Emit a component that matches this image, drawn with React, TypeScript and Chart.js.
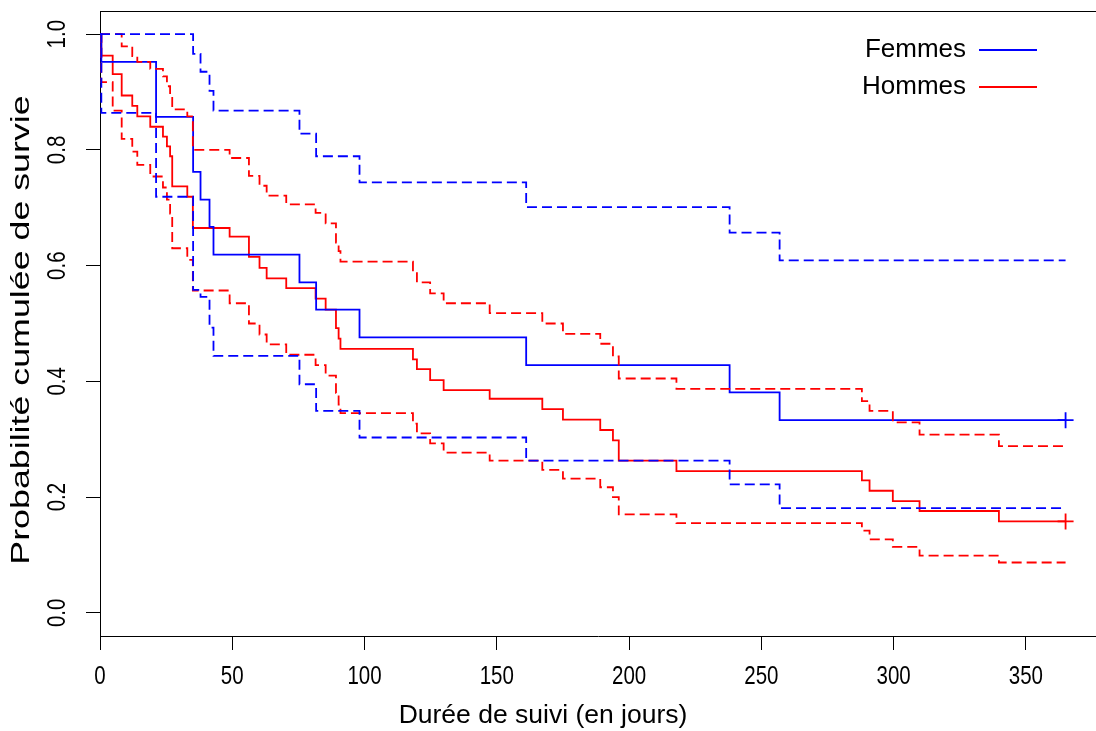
import React, { useEffect, useRef } from "react";
import { Chart, registerables } from "chart.js";

Chart.register(...registerables);

// ---- data ----
const xTickValues = [0, 50, 100, 150, 200, 250, 300, 350];
const xTickLabels = ["0", "50", "100", "150", "200", "250", "300", "350"];
const yTickValues = [0, 0.2, 0.4, 0.6, 0.8, 1.0];
const yTickLabels = ["0.0", "0.2", "0.4", "0.6", "0.8", "1.0"];

const xTitle = "Durée de suivi (en jours)";
const yTitle = "Probabilité cumulée de survie";
const legendLabels = ["Femmes", "Hommes"];

const femmesTimes = [0, 0.5, 21.2, 35.2, 38, 41.4, 42.9, 75.4, 81.7, 98.1, 161.1, 238, 256.9, 365];
const femmesSurv = [1, 0.952, 0.857, 0.762, 0.714, 0.667, 0.619, 0.571, 0.524, 0.476, 0.428, 0.381, 0.333, 0.333];
const femmesUpper = [1, 1, 1, 0.966, 0.935, 0.902, 0.868, 0.828, 0.789, 0.744, 0.701, 0.657, 0.609, 0.609];
const femmesLower = [1, 0.864, 0.719, 0.558, 0.546, 0.493, 0.444, 0.395, 0.349, 0.303, 0.263, 0.222, 0.181, 0.181];

const hommesTimes = [0, 0.5, 4.8, 8.2, 12.2, 14.1, 19, 23.8, 25.3, 26.5, 27.3, 33, 35.1, 49, 56.3, 60.3, 63, 70.4, 81.5, 85.3, 89.2, 90.2, 90.9, 118.3, 119.8, 124.8, 129.9, 147.3, 167.2, 175, 189.1, 193.9, 196.1, 217.9, 288, 290.9, 299.7, 309.8, 339.8, 365];
const hommesSurv = [1, 0.963, 0.931, 0.894, 0.876, 0.858, 0.84, 0.823, 0.806, 0.789, 0.737, 0.719, 0.665, 0.65, 0.615, 0.596, 0.578, 0.561, 0.543, 0.524, 0.492, 0.474, 0.456, 0.438, 0.421, 0.402, 0.385, 0.37, 0.352, 0.334, 0.316, 0.298, 0.263, 0.245, 0.229, 0.211, 0.193, 0.176, 0.158, 0.158];
const hommesUpper = [1, 1, 1, 0.979, 0.962, 0.952, 0.94, 0.927, 0.91, 0.89, 0.87, 0.858, 0.8, 0.786, 0.755, 0.738, 0.721, 0.706, 0.691, 0.673, 0.64, 0.625, 0.607, 0.589, 0.571, 0.552, 0.535, 0.518, 0.5, 0.482, 0.465, 0.443, 0.405, 0.387, 0.366, 0.349, 0.329, 0.308, 0.288, 0.288];
const hommesLower = [1, 0.917, 0.868, 0.819, 0.797, 0.774, 0.754, 0.735, 0.714, 0.69, 0.63, 0.61, 0.557, 0.535, 0.5, 0.481, 0.464, 0.446, 0.428, 0.41, 0.38, 0.36, 0.345, 0.327, 0.31, 0.293, 0.277, 0.263, 0.247, 0.232, 0.217, 0.2, 0.17, 0.155, 0.142, 0.127, 0.114, 0.099, 0.087, 0.087];

const censorTime = 365;

const BLUE = "#0000FF";
const RED = "#FF0000";
const SANS = "'Liberation Sans', Arial, Helvetica, sans-serif";
const LW = 1.8;

const zip = (xs: number[], ys: number[]) => xs.map((x, i) => ({ x, y: ys[i] }));

const stepLine = (label: string, xs: number[], ys: number[], color: string, dashed: boolean) => ({
  type: "line" as const,
  label,
  data: zip(xs, ys),
  stepped: "before" as const,
  borderColor: color,
  borderWidth: LW,
  borderDash: dashed ? [10, 5] : [],
  pointRadius: 0,
  fill: false,
  tension: 0,
});

function scaledText(ctx: CanvasRenderingContext2D, text: string, x: number, y: number, rot: number, sx: number) {
  ctx.save();
  ctx.translate(x, y);
  ctx.rotate(rot);
  ctx.scale(sx, 1);
  ctx.fillText(text, 0, 0);
  ctx.restore();
}

const rDecor = {
  id: "rDecor",
  afterDraw(chart: any) {
    const { ctx, chartArea, scales } = chart;
    ctx.save();
    // top frame line
    ctx.strokeStyle = "#000";
    ctx.lineWidth = 1;
    ctx.beginPath();
    ctx.moveTo(chartArea.left, Math.round(chartArea.top) + 0.5);
    ctx.lineTo(chartArea.right, Math.round(chartArea.top) + 0.5);
    ctx.stroke();

    // tick labels (narrow face)
    ctx.fillStyle = "#000";
    ctx.font = `25px ${SANS}`;
    ctx.textAlign = "center";
    ctx.textBaseline = "middle";
    xTickValues.forEach((v, i) => {
      scaledText(ctx, xTickLabels[i], scales.x.getPixelForValue(v), 677, 0, 0.82);
    });
    yTickValues.forEach((v, i) => {
      scaledText(ctx, yTickLabels[i], 58, scales.y.getPixelForValue(v), -Math.PI / 2, 0.82);
    });

    // axis titles
    ctx.font = `26.5px ${SANS}`;
    ctx.fillText(xTitle, 543, 716);
    scaledText(ctx, yTitle, 22, 330, -Math.PI / 2, 1.35);

    // legend
    ctx.font = `26px ${SANS}`;
    const colors = [BLUE, RED];
    const ys = [50, 87];
    ctx.textAlign = "right";
    legendLabels.forEach((lab, i) => {
      ctx.fillStyle = "#000";
      ctx.fillText(lab, 966, ys[i]);
      ctx.strokeStyle = colors[i];
      ctx.lineWidth = LW;
      ctx.beginPath();
      ctx.moveTo(979, ys[i]);
      ctx.lineTo(1037, ys[i]);
      ctx.stroke();
    });
    ctx.restore();
  },
};

export default function App() {
  const ref = useRef<HTMLCanvasElement | null>(null);

  useEffect(() => {
    const canvas = ref.current;
    if (!canvas) return;
    const chart = new Chart(canvas, {
      type: "line",
      data: {
        datasets: [
          stepLine("Femmes IC haut", femmesTimes, femmesUpper, BLUE, true),
          stepLine("Femmes IC bas", femmesTimes, femmesLower, BLUE, true),
          stepLine("Hommes IC haut", hommesTimes, hommesUpper, RED, true),
          stepLine("Hommes IC bas", hommesTimes, hommesLower, RED, true),
          stepLine("Femmes", femmesTimes, femmesSurv, BLUE, false),
          stepLine("Hommes", hommesTimes, hommesSurv, RED, false),
          {
            type: "scatter" as const,
            label: "Censure Femmes",
            data: [{ x: censorTime, y: femmesSurv[femmesSurv.length - 1] }],
            pointStyle: "cross",
            pointRadius: 8,
            borderWidth: LW,
            borderColor: BLUE,
            backgroundColor: BLUE,
            showLine: false,
          },
          {
            type: "scatter" as const,
            label: "Censure Hommes",
            data: [{ x: censorTime, y: hommesSurv[hommesSurv.length - 1] }],
            pointStyle: "cross",
            pointRadius: 8,
            borderWidth: LW,
            borderColor: RED,
            backgroundColor: RED,
            showLine: false,
          },
        ] as any,
      },
      options: {
        responsive: false,
        animation: false,
        devicePixelRatio: 1,
        layout: { autoPadding: false, padding: { top: 11, left: 0, right: 0, bottom: 0 } },
        plugins: {
          legend: { display: false },
          tooltip: { enabled: false },
        },
        scales: {
          x: {
            type: "linear",
            min: 0,
            max: 376.5,
            afterBuildTicks: (s: any) => {
              s.ticks = xTickValues.map((v) => ({ value: v }));
            },
            afterFit: (s: any) => {
              s.height = 95;
            },
            grid: {
              display: true,
              drawOnChartArea: false,
              drawTicks: true,
              tickLength: 14,
              tickColor: "#000",
              tickWidth: 1,
            },
            border: { display: true, color: "#000", width: 1 },
            ticks: { display: false },
          },
          y: {
            type: "linear",
            min: -0.04,
            max: 1.04,
            afterBuildTicks: (s: any) => {
              s.ticks = yTickValues.map((v) => ({ value: v }));
            },
            afterFit: (s: any) => {
              s.width = 100;
            },
            grid: {
              display: true,
              drawOnChartArea: false,
              drawTicks: true,
              tickLength: 14,
              tickColor: "#000",
              tickWidth: 1,
            },
            border: { display: true, color: "#000", width: 1 },
            ticks: { display: false },
          },
        },
      },
      plugins: [rDecor],
    } as any);
    return () => chart.destroy();
  }, []);

  return (
    <div style={{ position: "absolute", left: 0, top: 0, width: 1096, height: 731, background: "#fff" }}>
      <canvas ref={ref} width={1096} height={731} style={{ display: "block" }} />
    </div>
  );
}
